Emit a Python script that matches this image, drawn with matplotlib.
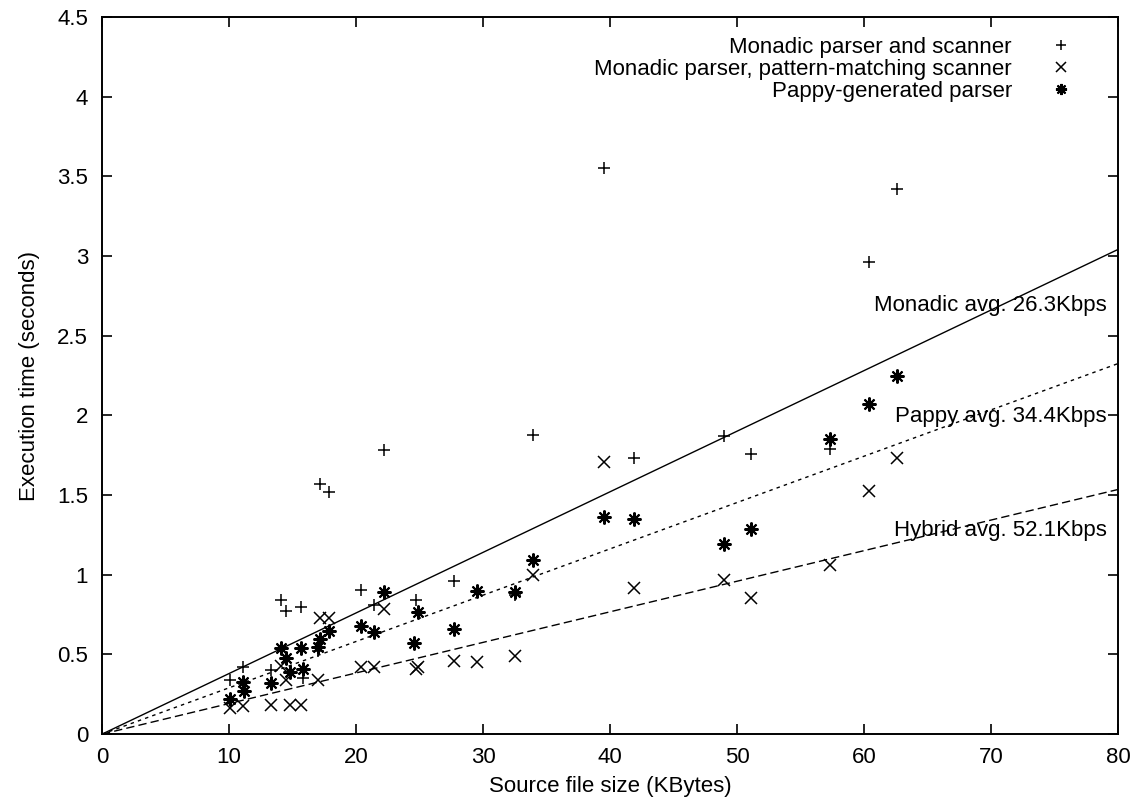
"""Execution time vs. source file size for three parser variants."""

import matplotlib as mpl

mpl.use("Agg")
import matplotlib.pyplot as plt
import numpy as np

mpl.rcParams["font.family"] = ["Liberation Sans", "DejaVu Sans"]
mpl.rcParams["font.size"] = 16

# %% data
monadic_x = [10.05, 11.1, 13.3, 14.1, 14.5, 15.7, 15.8, 17.0, 17.2, 17.9, 20.4,
             21.4, 22.2, 24.7, 27.7, 29.5, 32.5, 33.9, 39.5, 41.9, 49.0, 51.1,
             57.3, 60.4, 62.6]
monadic_y = [0.34, 0.42, 0.40, 0.84, 0.77, 0.80, 0.355, 0.52, 1.57, 1.52, 0.905,
             0.81, 1.78, 0.84, 0.96, 0.89, 0.87, 1.88, 3.55, 1.73, 1.87, 1.76,
             1.79, 2.96, 3.42]

pattern_x = [10.05, 11.1, 13.3, 14.1, 14.5, 14.8, 15.7, 17.0, 17.2, 17.9, 20.4,
             21.4, 22.2, 24.7, 24.9, 27.7, 29.5, 32.5, 33.9, 39.5, 41.9, 49.0,
             51.1, 57.3, 60.4, 62.6]
pattern_y = [0.165, 0.175, 0.18, 0.43, 0.34, 0.18, 0.18, 0.34, 0.73, 0.73, 0.42,
             0.42, 0.785, 0.41, 0.42, 0.46, 0.45, 0.49, 1.0, 1.71, 0.92, 0.97,
             0.855, 1.06, 1.525, 1.73]

pappy_x = [10.05, 11.1, 11.2, 13.3, 14.1, 14.5, 14.8, 15.7, 15.8, 17.0, 17.2,
           17.9, 20.4, 21.4, 22.2, 24.6, 24.9, 27.7, 29.5, 32.5, 33.9, 39.5,
           41.9, 49.0, 51.1, 57.3, 60.4, 62.6]
pappy_y = [0.22, 0.33, 0.27, 0.32, 0.54, 0.475, 0.39, 0.54, 0.41, 0.545, 0.60,
           0.645, 0.68, 0.64, 0.89, 0.57, 0.765, 0.66, 0.90, 0.89, 1.09, 1.36,
           1.35, 1.19, 1.29, 1.85, 2.07, 2.25]

fit_names = ["Monadic", "Pappy", "Hybrid"]
fit_rates = [26.3, 34.4, 52.1]  # KBytes per second
fit_styles = ["-", (0, (2.5, 3)), (0, (6, 3))]
fit_label_y = [2.69, 1.99, 1.28]

# %% figure
fig = plt.figure(figsize=(11.33, 8.05), dpi=100)
ax = fig.add_axes([0.090, 0.088, 0.897, 0.891])

star = (8, 2, 0)
ax.plot(monadic_x, monadic_y, ls="none", marker="+", ms=9, mew=1.1,
        color="black", label="Monadic parser and scanner")
ax.plot(pattern_x, pattern_y, ls="none", marker="x", ms=8.5, mew=1.1,
        color="black", label="Monadic parser, pattern-matching scanner")
ax.plot(pappy_x, pappy_y, ls="none", marker=star, ms=10, mew=1.5,
        color="black", label="Pappy-generated parser")

xs = np.array([0, 80])
for name, rate, style, ly in zip(fit_names, fit_rates, fit_styles, fit_label_y):
    ax.plot(xs, xs / rate, ls=style, lw=1.0, color="black")
    ax.text(79.1, ly, f"{name} avg. {rate}Kbps", ha="right", va="center")

ax.set_xlim(0, 80)
ax.set_ylim(0, 4.5)
ax.set_xticks(np.arange(0, 81, 10))
ax.set_yticks(np.arange(0, 4.51, 0.5))
ax.set_yticklabels(["0", "0.5", "1", "1.5", "2", "2.5", "3", "3.5", "4", "4.5"])
ax.tick_params(direction="in", length=7, width=1.2, top=True, right=True)
ax.tick_params(axis="y", pad=10)
ax.tick_params(axis="x", pad=9)
for sp in ax.spines.values():
    sp.set_linewidth(1.4)

ax.set_xlabel("Source file size (KBytes)", labelpad=6)
ax.set_ylabel("Execution time (seconds)", labelpad=12)

ax.legend(loc="upper right", bbox_to_anchor=(0.974, 0.985), borderaxespad=0,
          frameon=False, markerfirst=False, alignment="right", markerscale=0.8,
          handlelength=2, handletextpad=1.2, labelspacing=0.05)

fig.savefig("out.png", dpi=100)
